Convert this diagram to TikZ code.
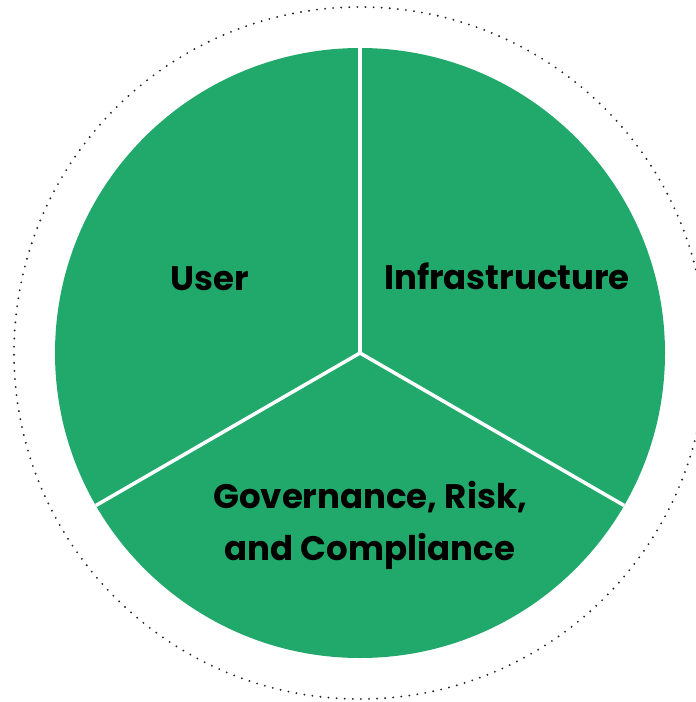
\documentclass[tikz,border=0pt]{standalone}
\usepackage{fontspec}
\setmainfont{Poppins}
\usetikzlibrary{positioning, calc}
\definecolor{pie}{RGB}{33,169,107}
\begin{document}
\begin{tikzpicture}[x=1pt, y=-1pt, thick,
    label/.style = {font=\fontsize{34}{52}\selectfont\bfseries, anchor=base, align=center, inner sep=0pt},
    divider/.style = {draw=white, line width=3.5pt},
    ring/.style = {draw=black!85, line width=2.1pt, line cap=round, dash pattern=on 0pt off 8.1pt}]
    \useasboundingbox (0,0) rectangle (696,702);
    \coordinate (c) at (360,353);
    % outer dotted ring and the pie (y runs downwards)
    \draw[ring] (c) circle (346);
    \fill[pie] (c) circle (305);
    \coordinate (top) at ($(c)+(270:305)$);
    \coordinate (left) at ($(c)+(150:305)$);
    \coordinate (right) at ($(c)+(30:305)$);
    \draw[divider] (c) -- (top);
    \draw[divider] (c) -- (left);
    \draw[divider] (c) -- (right);
    \node[label] (user) at (210,290) {User};
    \node[label] (infra) at (507,289) {Infrastructure};
    \node[label] (grc) at (370,560) {Governance, Risk,\\and Compliance};
\end{tikzpicture}
\end{document}
